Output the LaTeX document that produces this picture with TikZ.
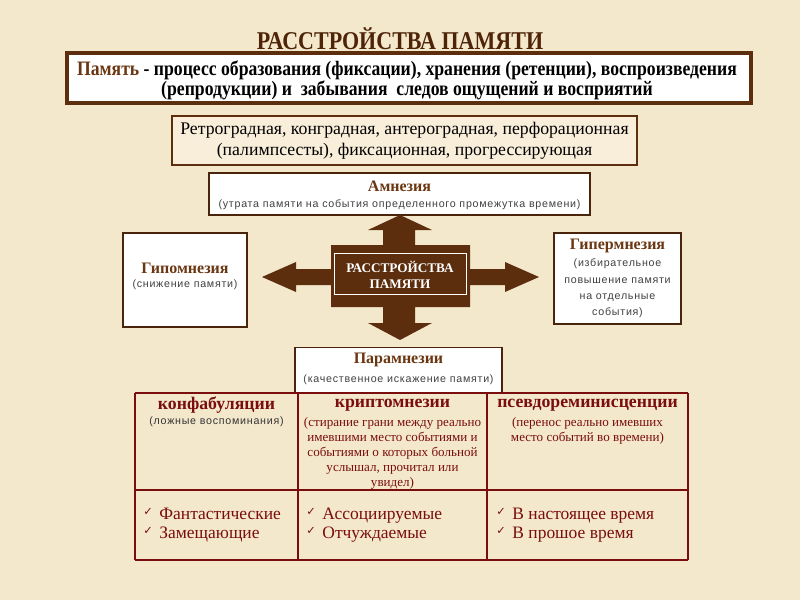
\documentclass[tikz,border=0pt]{standalone}
\usepackage{fontspec}
\setmainfont{Liberation Serif}
\setsansfont{Liberation Sans}
\newfontfamily\condf{Liberation Serif}[FakeStretch=0.86]
\newfontfamily\smallf{Liberation Sans}[LetterSpace=7]
\newfontfamily\symf{DejaVu Sans}
\definecolor{bg}{HTML}{F4E8CC}
\definecolor{brn}{HTML}{5C2E0E}
\definecolor{tbrn}{HTML}{4E2408}
\definecolor{lbrn}{HTML}{6B3712}
\definecolor{dred}{HTML}{7A0E0E}
\definecolor{box2}{HTML}{F8EEDA}
\newcommand{\chk}{{\symf\fontsize{8.5}{9}\selectfont\raisebox{3pt}{✓}}\hspace{5pt}}
\tikzset{
  wbox/.style={draw=brn!80!black, line width=0.8pt, fill=white, inner sep=0pt},
  ttl/.style={text=lbrn, font=\bfseries\fontsize{12}{13}\selectfont, inner sep=0pt},
  sub/.style={text=black!75, font=\smallf\fontsize{8}{12}\selectfont, inner sep=0pt, align=center},
  hdr/.style={text=dred, font=\bfseries\fontsize{13.3}{14}\selectfont, inner sep=0pt},
  csub/.style={text=dred, font=\fontsize{9.8}{11.25}\selectfont, inner sep=0pt, align=center},
  item/.style={text=dred, font=\fontsize{13.1}{14.25}\selectfont, inner sep=0pt, anchor=west, align=left},
  tline/.style={draw=dred, line width=1.5pt},
}
\begin{document}
\begin{tikzpicture}[x=0.75pt,y=-0.75pt]
\useasboundingbox (0,0) rectangle (800,600);
\fill[bg] (0,0) rectangle (800,600);
% title
\node[text=tbrn, font=\condf\bfseries\fontsize{19.2}{20}\selectfont, inner sep=0pt] (title) at (400,39) {РАССТРОЙСТВА ПАМЯТИ};
% definition box
\node[draw=brn, line width=2.6pt, fill=white, minimum width=684*0.75pt, minimum height=50*0.75pt, inner sep=0pt] (def) at (409,78) {};
\node[font=\condf\bfseries\fontsize{15.4}{15.2}\selectfont, align=center, inner sep=0pt] (deft) at (407,80.5)
  {\textcolor{lbrn}{Память} - процесс образования (фиксации), хранения (ретенции), воспроизведения\\(репродукции) и \ забывания \ следов ощущений и восприятий};
% types of amnesia
\node[draw=brn, line width=0.8pt, fill=box2, minimum width=465*0.75pt, minimum height=49*0.75pt, inner sep=0pt,
      font=\fontsize{13.3}{15.8}\selectfont, align=center] (types) at (404.5,140.5)
  {Ретроградная, конградная, антероградная, перфорационная\\(палимпсесты), фиксационная, прогрессирующая};
% amnesia
\node[wbox, minimum width=381*0.75pt, minimum height=42*0.75pt] (amn) at (399.5,194) {};
\node[ttl] (amnt) at (399.5,186) {Амнезия};
\node[sub] (amns) at (399.5,205) {(утрата памяти на события определенного промежутка времени)};
% cross arrow
\fill[brn] (331,245) -- (383,245) -- (383,230) -- (368,230) -- (400,215) -- (432,230) -- (415,230) -- (415,245)
  -- (470,245) -- (470,269) -- (505,269) -- (505,262) -- (539,277) -- (505,292) -- (505,285) -- (470,285)
  -- (470,307) -- (415,307) -- (415,323) -- (432,323) -- (400,340) -- (368,323) -- (383,323) -- (383,307)
  -- (331,307) -- (331,285) -- (296,285) -- (296,292) -- (262,277) -- (296,262) -- (296,269) -- (331,269) -- cycle;
\node[draw=white, line width=0.6pt, minimum width=132*0.75pt, minimum height=41*0.75pt, inner sep=0pt] (core) at (400,273.5) {};
\node[text=white, font=\bfseries\fontsize{9.9}{12.5}\selectfont, align=center, inner sep=0pt] (coret) at (400,275) {РАССТРОЙСТВА\\ПАМЯТИ};
% hypomnesia
\node[wbox, minimum width=124*0.75pt, minimum height=94*0.75pt] (hypo) at (185,280) {};
\node[ttl] (hypot) at (185,268) {Гипомнезия};
\node[sub] (hypos) at (185,285) {(снижение памяти)};
% hypermnesia
\node[wbox, minimum width=127*0.75pt, minimum height=91*0.75pt] (hyper) at (617.5,278.5) {};
\node[ttl] (hypert) at (617.5,246) {Гипермнезия};
\node[sub, font=\smallf\fontsize{8}{12.2}\selectfont] (hypers) at (617.5,288.5) {(избирательное\\повышение памяти\\на отдельные\\события)};
% paramnesia
\node[wbox, minimum width=207*0.75pt, minimum height=45*0.75pt] (par) at (398.5,370) {};
\node[ttl] (part) at (398.5,360) {Парамнезии};
\node[sub] (pars) at (398.5,380) {(качественное искажение памяти)};
% table
\coordinate (t1) at (135,393); \coordinate (t2) at (688,393);
\coordinate (m1) at (135,490); \coordinate (m2) at (688,490);
\coordinate (b1) at (135,560); \coordinate (b2) at (688,560);
\draw[tline] (t1) -- (t2);
\draw[tline] (m1) -- (m2);
\draw[tline] (b1) -- (b2);
\draw[tline] (t1) -- (b1);
\draw[tline] (t2) -- (b2);
\draw[tline] (298,393) -- (298,560);
\draw[tline] (487,393) -- (487,560);
\node[hdr] (h1) at (216.5,405) {конфабуляции};
\node[hdr] (h2) at (392.5,405) {криптомнезии};
\node[hdr] (h3) at (587.5,405) {псевдореминисценции};
\node[sub, text=black!80] (s1) at (216.5,422) {(ложные воспоминания)};
\node[csub, anchor=north] (s2) at (392.5,417) {(стирание грани между реально\\имевшими место событиями и\\событиями о которых больной\\услышал, прочитал или\\увидел)};
\node[csub, anchor=north] (s3) at (587.5,417) {(перенос реально имевших\\место событий во времени)};
\node[item] (i1) at (143,525.5) {\chk Фантастические\\\chk Замещающие};
\node[item] (i2) at (306,525.5) {\chk Ассоциируемые\\\chk Отчуждаемые};
\node[item] (i3) at (496,525.5) {\chk В настоящее время\\\chk В прошое время};
\end{tikzpicture}
\end{document}
